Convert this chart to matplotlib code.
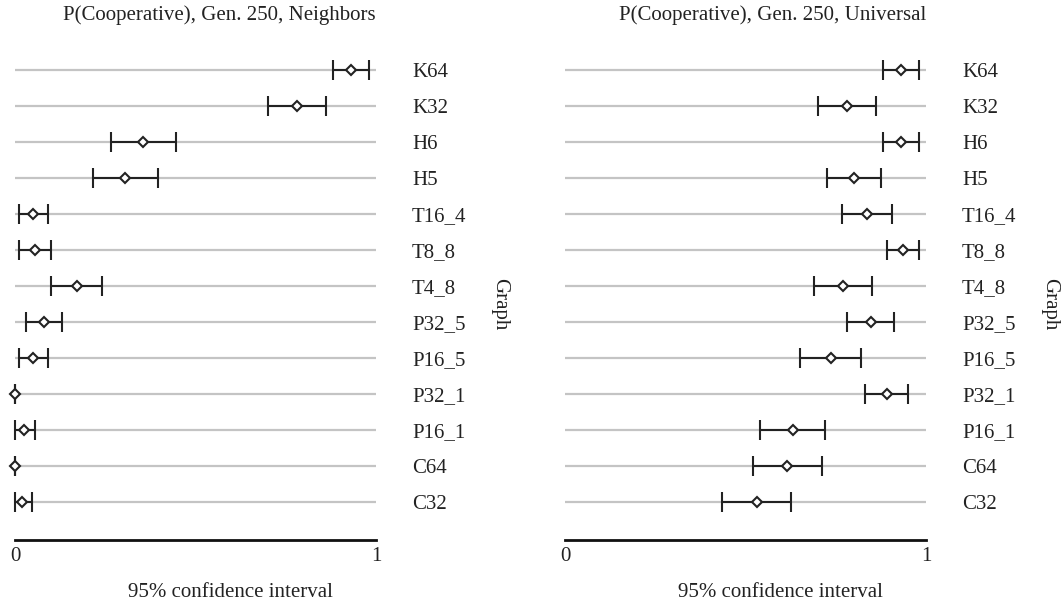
import numpy as np
import matplotlib
matplotlib.use('Agg')
import matplotlib.pyplot as plt

plt.rcParams['font.family'] = ['Liberation Serif', 'DejaVu Serif']

# 图的类别（从上到下）
graphs = ['K64', 'K32', 'H6', 'H5', 'T16_4', 'T8_8', 'T4_8',
          'P32_5', 'P16_5', 'P32_1', 'P16_1', 'C64', 'C32']

# Neighbors: 均值与 95% 置信区间
nb_mean = [0.931, 0.780, 0.355, 0.306, 0.051, 0.056, 0.171,
           0.081, 0.051, 0.000, 0.025, 0.000, 0.020]
nb_low = [0.880, 0.702, 0.265, 0.215, 0.011, 0.011, 0.101,
          0.030, 0.010, 0.000, 0.000, 0.000, 0.000]
nb_high = [0.981, 0.861, 0.446, 0.396, 0.091, 0.101, 0.240,
           0.131, 0.091, 0.000, 0.055, 0.000, 0.047]

# Universal: 均值与 95% 置信区间
un_mean = [0.931, 0.780, 0.931, 0.801, 0.837, 0.937, 0.771,
           0.847, 0.736, 0.891, 0.631, 0.616, 0.531]
un_low = [0.880, 0.702, 0.880, 0.726, 0.767, 0.892, 0.691,
          0.781, 0.651, 0.831, 0.541, 0.521, 0.436]
un_high = [0.981, 0.861, 0.981, 0.875, 0.906, 0.981, 0.850,
           0.911, 0.821, 0.951, 0.721, 0.711, 0.625]

titles = ['P(Cooperative), Gen. 250, Neighbors',
          'P(Cooperative), Gen. 250, Universal']

W, H = 1063, 607
FS = 15
TXT = '#222222'
fig = plt.figure(figsize=(W / 100, H / 100), dpi=100)


def draw_panel(left_px, mean, low, high, title):
    ax = fig.add_axes([left_px / W, 1 - 540 / H, 361 / W, 488 / H])
    y = np.arange(len(graphs))[::-1]
    mean = np.array(mean)
    xerr = [mean - np.array(low), np.array(high) - mean]

    # 灰色横线
    for yy in y:
        ax.axhline(yy, color='#c4c4c4', lw=1.6, zorder=1)

    ax.errorbar(mean, y, xerr=xerr, fmt='D', color='#222222', ecolor='#222222',
                elinewidth=1.5, capsize=7, capthick=1.5, markersize=5.2,
                markerfacecolor='white', markeredgewidth=1.5, clip_on=False, zorder=3)

    ax.set_xlim(0, 1)
    ax.set_ylim(-1.06, 12.5)
    ax.set_xticks([0, 1])
    ax.set_xticklabels(['0', '1'])
    ax.set_yticks(y)
    ax.set_yticklabels(graphs)
    ax.yaxis.tick_right()
    ax.yaxis.set_label_position('right')
    ax.tick_params(axis='y', length=0, pad=26, labelsize=FS, colors=TXT)
    ax.tick_params(axis='x', length=0, pad=5, labelsize=FS, colors=TXT)

    # 坐标轴标签（位置按原图）
    ax.set_ylabel('Graph', rotation=270, fontsize=FS, color=TXT)
    ax.yaxis.label.set(ha='center', va='center', rotation_mode='anchor')
    ax.yaxis.set_label_coords(1.343, 0.484)
    ax.set_xlabel('95% confidence interval', fontsize=FS, color=TXT)
    ax.xaxis.label.set(ha='center', va='center')
    ax.xaxis.set_label_coords(0.596, -0.107)
    ax.set_title(title, loc='right', fontsize=FS, pad=23, color=TXT)

    for s in ['top', 'left', 'right']:
        ax.spines[s].set_visible(False)
    ax.spines['bottom'].set_linewidth(2)
    ax.spines['bottom'].set_color('#111111')
    return ax


draw_panel(15, nb_mean, nb_low, nb_high, titles[0])
draw_panel(565, un_mean, un_low, un_high, titles[1])

fig.savefig('out.png', dpi=100)
